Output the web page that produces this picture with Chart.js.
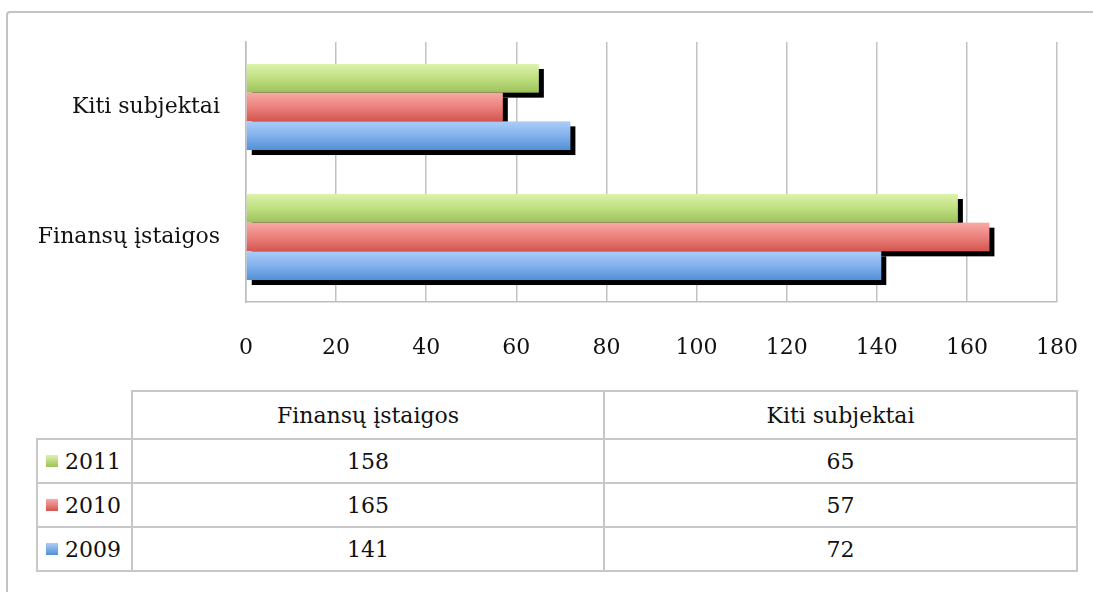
<!DOCTYPE html>
<html lang="lt">
<head>
    <meta charset="UTF-8" />
    <title>Finansų įstaigos ir kiti subjektai</title>
    <script src="https://cdn.jsdelivr.net/npm/chart.js"></script>
    <style>
        html, body { margin: 0; padding: 0; background: #fff; }
        body { width: 1093px; height: 592px; position: relative; overflow: hidden; font-family: "DejaVu Serif", serif; color: #111; }
        .frame {
            position: absolute; left: 6px; top: 11px; width: 1200px; height: 700px;
            border-top: 2px solid #c4c4c4; border-left: 2px solid #c4c4c4;
            border-top-left-radius: 4px;
        }
        #chartBox { position: absolute; left: 0; top: 0; width: 1093px; height: 380px; }
        #dataTable {
            position: absolute; left: 36px; top: 390px;
            border-collapse: collapse; font-size: 22px;
        }
        #dataTable td, #dataTable th {
            border: 2px solid #c8c8c8; padding: 0; font-weight: normal; text-align: center;
        }
        #dataTable th { height: 45px; padding-top: 1px; }
        #dataTable td { height: 42px; }
        #dataTable th.blank { border-top: none; border-left: none; }
        #dataTable td.key { text-align: left; padding-left: 8px; white-space: nowrap; }
        .swatch { display: inline-block; width: 12px; height: 12px; margin-right: 7px; vertical-align: 2px; }
    </style>
</head>
<body>
    <div class="frame"></div>
    <div id="chartBox"><canvas id="barChart" width="1093" height="380"></canvas></div>
    <table id="dataTable"><thead></thead><tbody></tbody></table>

    <script>
        // chart data
        const categories = ['Kiti subjektai', 'Finansų įstaigos'];
        const years = ['2011', '2010', '2009'];
        const values2011 = [65, 158];
        const values2010 = [57, 165];
        const values2009 = [72, 141];
        const axisMin = 0, axisMax = 180, axisStep = 20;

        const seriesValues = [values2011, values2010, values2009];
        const gradStops = [
            ['#dcf3ad', '#c0df80', '#9cc25a'],
            ['#f8aaa6', '#eb817c', '#d4554f'],
            ['#abcdf7', '#82b1ec', '#5290d6']
        ];
        const swatchColors = ['#b9dc7c', '#e98784', '#78aae8'];

        // bars with a hard black shadow, drawn top to bottom
        const shadowBars = {
            id: 'shadowBars',
            beforeDatasetsDraw(chart) {
                const c = chart.ctx;
                chart.data.datasets.forEach((ds, i) => {
                    const meta = chart.getDatasetMeta(i);
                    meta.data.forEach(el => {
                        const p = el.getProps(['x', 'y', 'base', 'height'], true);
                        const left = Math.min(p.base, p.x);
                        const w = Math.abs(p.x - p.base);
                        const top = p.y - p.height / 2;
                        c.save();
                        c.fillStyle = '#000';
                        c.fillRect(left + 5, top + 5, w, p.height);
                        const g = c.createLinearGradient(0, top, 0, top + p.height);
                        g.addColorStop(0, gradStops[i][0]);
                        g.addColorStop(0.5, gradStops[i][1]);
                        g.addColorStop(1, gradStops[i][2]);
                        c.fillStyle = g;
                        c.fillRect(left, top, w, p.height);
                        c.restore();
                    });
                });
                return false;
            }
        };

        const ctx = document.getElementById('barChart').getContext('2d');
        new Chart(ctx, {
            type: 'bar',
            data: {
                labels: categories,
                datasets: years.map((y, i) => ({
                    label: y,
                    data: seriesValues[i],
                    backgroundColor: swatchColors[i],
                    categoryPercentage: 0.662,
                    barPercentage: 1
                }))
            },
            options: {
                indexAxis: 'y',
                responsive: false,
                animation: false,
                layout: { padding: { left: 0, top: 42, right: 36, bottom: 0 } },
                plugins: { legend: { display: false }, tooltip: { enabled: false } },
                scales: {
                    x: {
                        min: axisMin, max: axisMax,
                        grid: { color: '#c2c2c2', lineWidth: 1.5, drawTicks: false },
                        border: { color: '#bdbdbd', width: 1.5 },
                        ticks: { stepSize: axisStep, padding: 33, color: '#111', font: { family: 'DejaVu Serif', size: 22 } },
                        afterFit(scale) {
                            scale.height = 78;
                            scale.paddingLeft = 0;
                            scale.paddingRight = 0;
                        }
                    },
                    y: {
                        grid: { display: false, drawTicks: false },
                        border: { color: '#bdbdbd', width: 1.5 },
                        ticks: { padding: 26, color: '#111', font: { family: 'DejaVu Serif', size: 22 } },
                        afterFit(scale) { scale.width = 246; }
                    }
                }
            },
            plugins: [shadowBars]
        });

        // data table under the chart, columns in reverse category order
        const tableCols = categories.slice().reverse();
        const colWidths = [94, 470, 471];
        const thead = document.querySelector('#dataTable thead');
        const tbody = document.querySelector('#dataTable tbody');
        let head = '<tr><th class="blank" style="width:' + colWidths[0] + 'px"></th>';
        tableCols.forEach((name, j) => {
            head += '<th style="width:' + colWidths[j + 1] + 'px">' + name + '</th>';
        });
        thead.innerHTML = head + '</tr>';
        years.forEach((y, i) => {
            const row = tbody.insertRow();
            const key = row.insertCell(0);
            key.className = 'key';
            key.innerHTML = '<span class="swatch" style="background:linear-gradient(' +
                gradStops[i][0] + ',' + gradStops[i][2] + ')"></span>' + y;
            tableCols.forEach((name, j) => {
                const k = categories.indexOf(name);
                row.insertCell(j + 1).innerText = seriesValues[i][k];
            });
        });
    </script>
</body>
</html>
